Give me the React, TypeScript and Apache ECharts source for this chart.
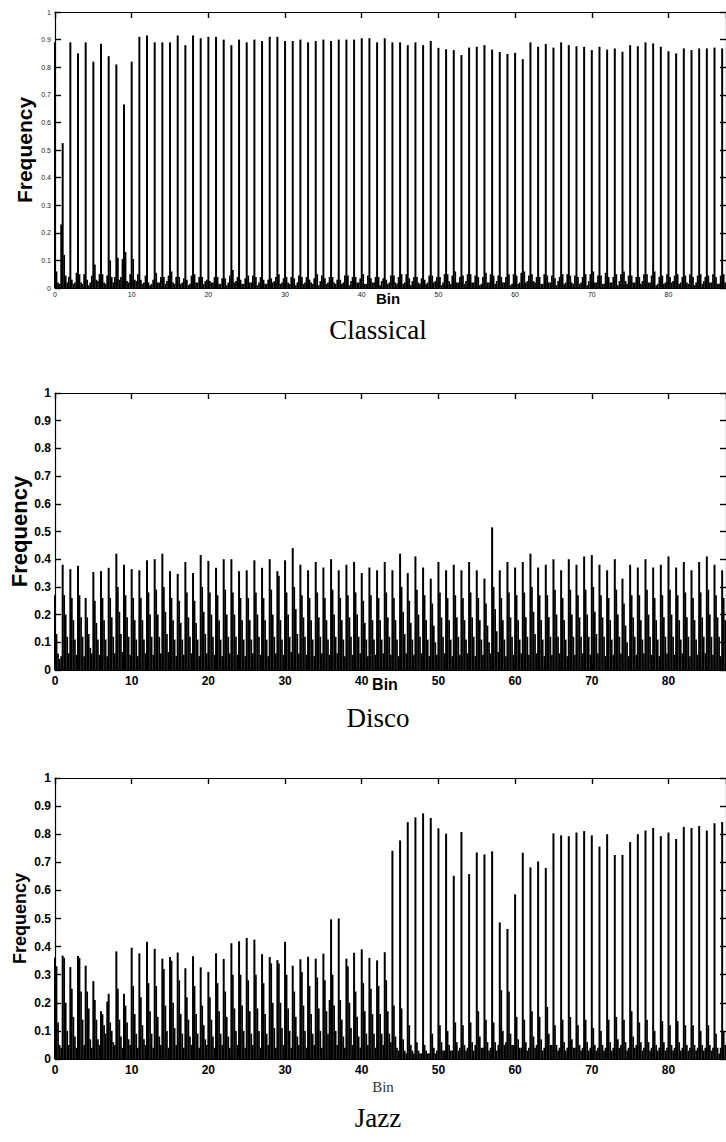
import React, { useEffect, useRef } from "react";
import * as echarts from "echarts";

// ---------- data (bins 0..87, five sub-bins per bin: k, k+0.2, k+0.4, k+0.6, k+0.8) ----------
const SUB_OFFSETS = [0, 0.2, 0.4, 0.6, 0.8];
const BIN_COUNT = 88;
const X_TICKS_INTERVAL = 10;
const Y_TICKS_INTERVAL = 0.1;

// Classical
const classicalPeak = [0.89,0.525,0.89,0.85,0.89,0.82,0.885,0.84,0.81,0.665,0.82,0.91,0.915,0.89,0.89,0.89,0.915,0.88,0.915,0.905,0.91,0.91,0.90,0.88,0.90,0.89,0.90,0.895,0.91,0.91,0.895,0.895,
0.90,0.89,0.895,0.90,0.895,0.90,0.90,0.90,0.905,0.905,0.89,0.905,0.89,0.89,0.88,0.89,0.88,0.895,0.87,0.865,0.862,0.844,0.871,0.874,0.88,0.864,0.855,0.848,0.852,0.829,0.89,0.874,0.884,0.871,0.89,0.88,0.876,0.874,0.862,0.874,0.864,0.868,0.856,0.88,0.876,0.89,0.886,0.874,0.858,0.85,0.868,0.862,0.868,0.868,0.871,0.868];
const classicalSub1 = [0.06,0.12,0.03,0.05,0.03,0.085,0.05,0.10,0.11,0.13,0.105,0.03,0.02,0.055,0.04,0.06,0.04,0.03,0.05,0.04,0.025,0.04,0.035,0.065,0.03,0.045,0.04,0.03,0.035,0.05,0.04,0.035,
0.04,0.03,0.05,0.035,0.04,0.03,0.045,0.04,0.05,0.035,0.04,0.03,0.045,0.05,0.035,0.04,0.03,0.045,0.04,0.05,0.06,0.045,0.05,0.04,0.055,0.045,0.04,0.05,0.045,0.06,0.05,0.04,0.045,0.035,0.05,0.045,0.04,0.05,0.06,0.045,0.04,0.05,0.06,0.045,0.04,0.05,0.06,0.045,0.04,0.05,0.045,0.04,0.05,0.045,0.04,0.05];
const classicalSub2 = [0.02,0.045,0.015,0.02,0.01,0.03,0.02,0.04,0.03,0.025,0.03,0.015,0.01,0.02,0.015,0.02,0.015,0.01,0.02,0.015,0.02,0.015,0.01,0.02,0.015,0.02,0.01,0.015,0.02,0.015,0.02,0.01,
0.015,0.02,0.01,0.015,0.02,0.015,0.01,0.02,0.015,0.02,0.01,0.015,0.02,0.015,0.01,0.02,0.015,0.02,0.01,0.025,0.02,0.015,0.02,0.01,0.02,0.015,0.02,0.01,0.015,0.02,0.025,0.015,0.02,0.01,0.015,0.02,0.015,0.01,0.02,0.015,0.02,0.01,0.025,0.02,0.015,0.02,0.01,0.015,0.02,0.015,0.02,0.01,0.015,0.02,0.015,0.02];
const classicalSub3 = [0.015,0.02,0.02,0.015,0.02,0.025,0.015,0.02,0.04,0.02,0.025,0.02,0.015,0.02,0.025,0.015,0.02,0.015,0.02,0.025,0.02,0.015,0.02,0.025,0.015,0.02,0.02,0.015,0.025,0.02,0.015,0.02,
0.02,0.015,0.025,0.02,0.015,0.02,0.025,0.02,0.015,0.02,0.025,0.02,0.015,0.02,0.025,0.015,0.02,0.025,0.02,0.015,0.02,0.025,0.02,0.015,0.02,0.025,0.02,0.015,0.02,0.025,0.02,0.015,0.02,0.025,0.02,0.015,0.02,0.025,0.02,0.015,0.02,0.025,0.015,0.02,0.025,0.02,0.015,0.02,0.025,0.02,0.015,0.02,0.025,0.02,0.015,0.02];
const classicalSub4 = [0.23,0.04,0.055,0.05,0.045,0.05,0.045,0.04,0.105,0.05,0.05,0.045,0.03,0.04,0.045,0.04,0.035,0.045,0.04,0.03,0.04,0.035,0.045,0.04,0.035,0.045,0.04,0.03,0.04,0.035,0.04,0.045,
0.04,0.035,0.045,0.04,0.03,0.045,0.04,0.035,0.045,0.04,0.035,0.045,0.04,0.05,0.04,0.035,0.045,0.04,0.05,0.045,0.04,0.05,0.045,0.04,0.05,0.045,0.04,0.05,0.055,0.045,0.04,0.05,0.045,0.04,0.05,0.045,0.04,0.05,0.045,0.055,0.04,0.05,0.045,0.04,0.05,0.045,0.04,0.05,0.045,0.04,0.05,0.045,0.04,0.05,0.045,0.04];

// Disco
const discoPeak = [0.27,0.38,0.364,0.376,0.26,0.354,0.357,0.369,0.42,0.38,0.364,0.36,0.396,0.40,0.42,0.357,0.347,0.39,0.35,0.415,0.394,0.369,0.40,0.40,0.357,0.36,0.396,0.369,0.40,0.357,0.396,0.44,
0.38,0.36,0.39,0.37,0.40,0.36,0.38,0.39,0.35,0.37,0.36,0.39,0.36,0.42,0.35,0.41,0.37,0.33,0.39,0.36,0.38,0.36,0.39,0.36,0.33,0.515,0.36,0.39,0.37,0.39,0.42,0.37,0.38,0.40,0.36,0.40,0.38,0.41,0.415,0.38,0.36,0.40,0.33,0.38,0.37,0.40,0.37,0.38,0.41,0.37,0.39,0.36,0.39,0.41,0.38,0.36];
const discoSub1 = [0.13,0.27,0.26,0.27,0.19,0.25,0.26,0.26,0.30,0.27,0.26,0.26,0.28,0.29,0.30,0.26,0.25,0.28,0.25,0.30,0.28,0.27,0.29,0.28,0.26,0.26,0.28,0.26,0.29,0.34,0.28,0.30,
0.27,0.26,0.28,0.26,0.29,0.26,0.27,0.28,0.25,0.27,0.26,0.28,0.26,0.30,0.25,0.29,0.27,0.24,0.28,0.26,0.27,0.26,0.28,0.26,0.24,0.30,0.26,0.28,0.27,0.28,0.30,0.27,0.27,0.29,0.26,0.29,0.27,0.29,0.30,0.27,0.26,0.29,0.24,0.27,0.27,0.29,0.26,0.27,0.29,0.27,0.28,0.26,0.28,0.29,0.27,0.26];
const discoSub2 = [0.06,0.20,0.18,0.19,0.13,0.17,0.18,0.19,0.21,0.19,0.18,0.18,0.20,0.20,0.21,0.18,0.17,0.19,0.17,0.21,0.20,0.18,0.20,0.20,0.18,0.18,0.20,0.18,0.20,0.18,0.20,0.22,
0.19,0.18,0.19,0.18,0.20,0.18,0.19,0.20,0.17,0.18,0.18,0.19,0.18,0.21,0.17,0.20,0.18,0.16,0.19,0.18,0.19,0.18,0.19,0.18,0.16,0.22,0.18,0.19,0.18,0.19,0.21,0.18,0.19,0.20,0.18,0.20,0.19,0.20,0.21,0.19,0.18,0.20,0.16,0.19,0.18,0.20,0.18,0.19,0.20,0.18,0.19,0.18,0.19,0.20,0.19,0.18];
const discoSub3 = [0.04,0.12,0.11,0.12,0.08,0.11,0.11,0.12,0.13,0.12,0.11,0.11,0.12,0.12,0.13,0.11,0.11,0.12,0.11,0.13,0.12,0.11,0.12,0.12,0.11,0.11,0.12,0.11,0.12,0.11,0.12,0.13,
0.12,0.11,0.12,0.11,0.12,0.11,0.12,0.12,0.11,0.11,0.11,0.12,0.11,0.13,0.11,0.12,0.11,0.10,0.12,0.11,0.12,0.11,0.12,0.11,0.10,0.14,0.11,0.12,0.11,0.12,0.13,0.11,0.12,0.12,0.11,0.12,0.12,0.12,0.13,0.12,0.11,0.12,0.10,0.12,0.11,0.12,0.11,0.12,0.12,0.11,0.12,0.11,0.12,0.12,0.12,0.11];
const discoSub4 = [0.05,0.06,0.055,0.05,0.06,0.055,0.05,0.06,0.065,0.055,0.05,0.06,0.055,0.06,0.065,0.05,0.055,0.06,0.05,0.06,0.055,0.05,0.06,0.055,0.05,0.06,0.055,0.05,0.06,0.055,0.065,0.06,
0.055,0.05,0.06,0.055,0.06,0.05,0.055,0.06,0.05,0.055,0.06,0.055,0.05,0.06,0.055,0.06,0.05,0.055,0.06,0.05,0.055,0.06,0.05,0.055,0.06,0.065,0.05,0.055,0.06,0.055,0.06,0.05,0.055,0.06,0.05,0.055,0.06,0.055,0.06,0.05,0.055,0.06,0.05,0.055,0.06,0.055,0.05,0.06,0.055,0.06,0.05,0.055,0.06,0.055,0.05,0.06];

// Jazz
const jazzPeak = [0.36,0.368,0.327,0.367,0.332,0.277,0.17,0.232,0.383,0.232,0.396,0.376,0.417,0.392,0.357,0.363,0.379,0.323,0.366,0.326,0.31,0.376,0.356,0.412,0.419,0.431,0.425,0.373,0.363,0.352,0.417,0.332,
0.355,0.364,0.357,0.375,0.497,0.50,0.357,0.378,0.39,0.36,0.351,0.38,0.741,0.778,0.843,0.86,0.874,0.858,0.821,0.802,0.652,0.808,0.658,0.735,0.728,0.739,0.486,0.463,0.586,0.734,0.682,0.703,0.68,0.803,0.796,0.793,0.806,0.811,0.796,0.756,0.80,0.726,0.726,0.772,0.80,0.813,0.822,0.793,0.806,0.783,0.826,0.822,0.829,0.813,0.839,0.843];
const jazzSub1 = [0.33,0.36,0.25,0.36,0.24,0.21,0.16,0.13,0.25,0.19,0.26,0.22,0.27,0.26,0.32,0.35,0.28,0.22,0.26,0.19,0.22,0.27,0.24,0.30,0.30,0.28,0.30,0.27,0.34,0.34,0.30,0.24,0.31,0.26,0.29,0.28,0.30,0.21,0.33,0.24,0.27,0.25,0.26,0.28,
0.19,0.18,0.12,0.06,0.05,0.09,0.12,0.10,0.13,0.12,0.13,0.17,0.14,0.13,0.245,0.24,0.15,0.14,0.17,0.15,0.185,0.12,0.14,0.15,0.12,0.14,0.11,0.10,0.14,0.15,0.14,0.17,0.13,0.14,0.10,0.135,0.12,0.135,0.12,0.12,0.10,0.12,0.09,0.10];
const jazzSub2 = [0.13,0.20,0.15,0.24,0.18,0.14,0.12,0.10,0.14,0.13,0.16,0.12,0.17,0.15,0.19,0.20,0.16,0.14,0.16,0.12,0.14,0.17,0.15,0.18,0.19,0.17,0.18,0.16,0.20,0.20,0.18,0.15,0.19,0.16,0.18,0.17,0.19,0.14,0.20,0.15,0.17,0.16,0.16,0.17,
0.08,0.07,0.05,0.03,0.03,0.04,0.06,0.05,0.06,0.05,0.06,0.08,0.06,0.06,0.10,0.09,0.07,0.06,0.08,0.07,0.09,0.05,0.06,0.07,0.05,0.06,0.05,0.05,0.06,0.07,0.06,0.08,0.06,0.06,0.05,0.06,0.05,0.06,0.05,0.05,0.05,0.05,0.04,0.05];
const jazzSub3 = [0.05,0.10,0.08,0.14,0.07,0.07,0.09,0.06,0.08,0.07,0.09,0.07,0.09,0.08,0.10,0.11,0.09,0.08,0.09,0.07,0.08,0.09,0.08,0.10,0.10,0.09,0.10,0.09,0.11,0.11,0.10,0.08,0.10,0.09,0.10,0.09,0.10,0.08,0.11,0.08,0.09,0.09,0.09,0.09,
0.04,0.03,0.03,0.02,0.02,0.02,0.03,0.03,0.03,0.03,0.03,0.04,0.03,0.03,0.05,0.05,0.04,0.03,0.04,0.03,0.05,0.03,0.03,0.04,0.03,0.03,0.03,0.03,0.03,0.04,0.03,0.04,0.03,0.03,0.03,0.03,0.03,0.03,0.03,0.03,0.03,0.03,0.02,0.03];
const jazzSub4 = [0.04,0.05,0.04,0.05,0.04,0.05,0.205,0.05,0.04,0.05,0.04,0.05,0.04,0.05,0.04,0.05,0.04,0.05,0.04,0.05,0.04,0.05,0.04,0.05,0.04,0.05,0.04,0.05,0.04,0.05,0.04,0.05,0.04,0.05,0.04,0.21,0.05,0.04,0.05,0.04,0.05,0.04,0.05,0.06,
0.03,0.02,0.02,0.02,0.02,0.03,0.03,0.03,0.04,0.04,0.05,0.04,0.04,0.05,0.06,0.05,0.04,0.04,0.05,0.04,0.05,0.04,0.04,0.04,0.04,0.04,0.04,0.04,0.04,0.05,0.04,0.05,0.04,0.04,0.04,0.04,0.04,0.04,0.04,0.04,0.04,0.04,0.04,0.04];

const captions = ["Classical", "Disco", "Jazz"];
const yAxisTitle = "Frequency";
const xAxisTitle = "Bin";

// ---------- layout (not data) ----------
const W = 726;
const H = 1142;
const GRID_LEFT = 55;
const X_MAX = 87.5;
const SANS = '"Liberation Sans", Arial, Helvetica, sans-serif';
const SERIF = '"Liberation Serif", "Times New Roman", serif';

const panels = [
  {
    rows: [classicalPeak, classicalSub1, classicalSub2, classicalSub3, classicalSub4],
    top: 12, height: 276,
    tickFont: 7, tickWeight: "normal", tickColor: "#222", xMargin: 3, yMargin: 4,
    freqX: 24, freqSize: 21,
    bin: { x: 388, y: 298, size: 15, family: SANS, weight: "bold", color: "#000" },
    capY: 330,
  },
  {
    rows: [discoPeak, discoSub1, discoSub2, discoSub3, discoSub4],
    top: 393, height: 277,
    tickFont: 12, tickWeight: "bold", tickColor: "#000", xMargin: 5, yMargin: 4,
    freqX: 19, freqSize: 22,
    bin: { x: 385, y: 684, size: 16, family: SANS, weight: "bold", color: "#000" },
    capY: 718,
  },
  {
    rows: [jazzPeak, jazzSub1, jazzSub2, jazzSub3, jazzSub4],
    top: 778, height: 281,
    tickFont: 12, tickWeight: "bold", tickColor: "#000", xMargin: 5, yMargin: 4,
    freqX: 20, freqSize: 18,
    bin: { x: 383, y: 1087, size: 15, family: SERIF, weight: "normal", color: "#333" },
    capY: 1118,
  },
];

function buildPoints(rows: number[][]) {
  const pts: number[][] = [];
  for (let k = 0; k < BIN_COUNT; k++) {
    rows.forEach((arr, j) => {
      const v = arr[k];
      if (v != null) pts.push([k + SUB_OFFSETS[j], v, j === 0 ? 1 : 0]);
    });
  }
  return pts;
}

export default function App() {
  const ref = useRef<HTMLDivElement>(null);

  useEffect(() => {
    if (!ref.current) return;
    const chart = echarts.init(ref.current, undefined, { renderer: "svg" });

    const grid: any[] = [];
    const xAxis: any[] = [];
    const yAxis: any[] = [];
    const series: any[] = [];
    const graphic: any[] = [];

    panels.forEach((p, i) => {
      grid.push({ left: GRID_LEFT, right: -3, top: p.top, height: p.height, containLabel: false });
      const line = { show: true, onZero: false, lineStyle: { color: "#000", width: 1.2 } };
      const tick = { show: true, inside: true, length: 6, lineStyle: { color: "#000", width: 1.4 } };
      const labelStyle = {
        fontSize: p.tickFont, fontWeight: p.tickWeight, color: p.tickColor, fontFamily: SANS,
      };
      xAxis.push({
        gridIndex: i, type: "value", position: "bottom", min: 0, max: X_MAX, interval: X_TICKS_INTERVAL,
        axisLine: line, axisTick: tick,
        axisLabel: { ...labelStyle, margin: p.xMargin, showMaxLabel: false },
        splitLine: { show: false },
      });
      xAxis.push({
        gridIndex: i, type: "value", position: "top", min: 0, max: X_MAX, interval: X_TICKS_INTERVAL,
        axisLine: line, axisTick: tick,
        axisLabel: { show: false }, splitLine: { show: false },
      });
      yAxis.push({
        gridIndex: i, type: "value", position: "left", min: 0, max: 1, interval: Y_TICKS_INTERVAL,
        axisLine: line, axisTick: tick,
        axisLabel: { ...labelStyle, margin: p.yMargin },
        splitLine: { show: false },
      });
      yAxis.push({
        gridIndex: i, type: "value", position: "right", min: 0, max: 1, interval: Y_TICKS_INTERVAL,
        axisLine: line, axisTick: tick,
        axisLabel: { show: false }, splitLine: { show: false },
      });
      series.push({
        type: "custom",
        xAxisIndex: i * 2,
        yAxisIndex: i * 2,
        data: buildPoints(p.rows),
        encode: { x: 0, y: 1 },
        renderItem: (_params: any, api: any) => {
          const x = api.value(0);
          const y = api.value(1);
          const isPeak = api.value(2) === 1;
          const base = api.coord([x, 0]);
          const top = api.coord([x, y]);
          const w = isPeak ? 2 : 1.7;
          return {
            type: "rect",
            shape: { x: base[0] - w / 2, y: top[1], width: w, height: base[1] - top[1] },
            style: { fill: "#000" },
          };
        },
      });
      graphic.push({
        type: "text", x: p.freqX, y: p.top + p.height / 2, rotation: Math.PI / 2,
        style: {
          text: yAxisTitle, fontSize: p.freqSize, fontWeight: "bold", fontFamily: SANS,
          fill: "#000", align: "center", verticalAlign: "middle",
        },
      });
      graphic.push({
        type: "text", x: p.bin.x, y: p.bin.y,
        style: {
          text: xAxisTitle, fontSize: p.bin.size, fontWeight: p.bin.weight, fontFamily: p.bin.family,
          fill: p.bin.color, align: "center", verticalAlign: "middle",
        },
      });
      graphic.push({
        type: "text", x: 378, y: p.capY,
        style: {
          text: captions[i], fontSize: 27, fontFamily: SERIF, fill: "#000",
          align: "center", verticalAlign: "middle",
        },
      });
    });

    chart.setOption({
      animation: false,
      backgroundColor: "#fff",
      grid, xAxis, yAxis, series, graphic,
    });

    return () => chart.dispose();
  }, []);

  return (
    <div
      ref={ref}
      style={{ position: "absolute", left: 0, top: 0, width: W, height: H, background: "#fff" }}
    />
  );
}
